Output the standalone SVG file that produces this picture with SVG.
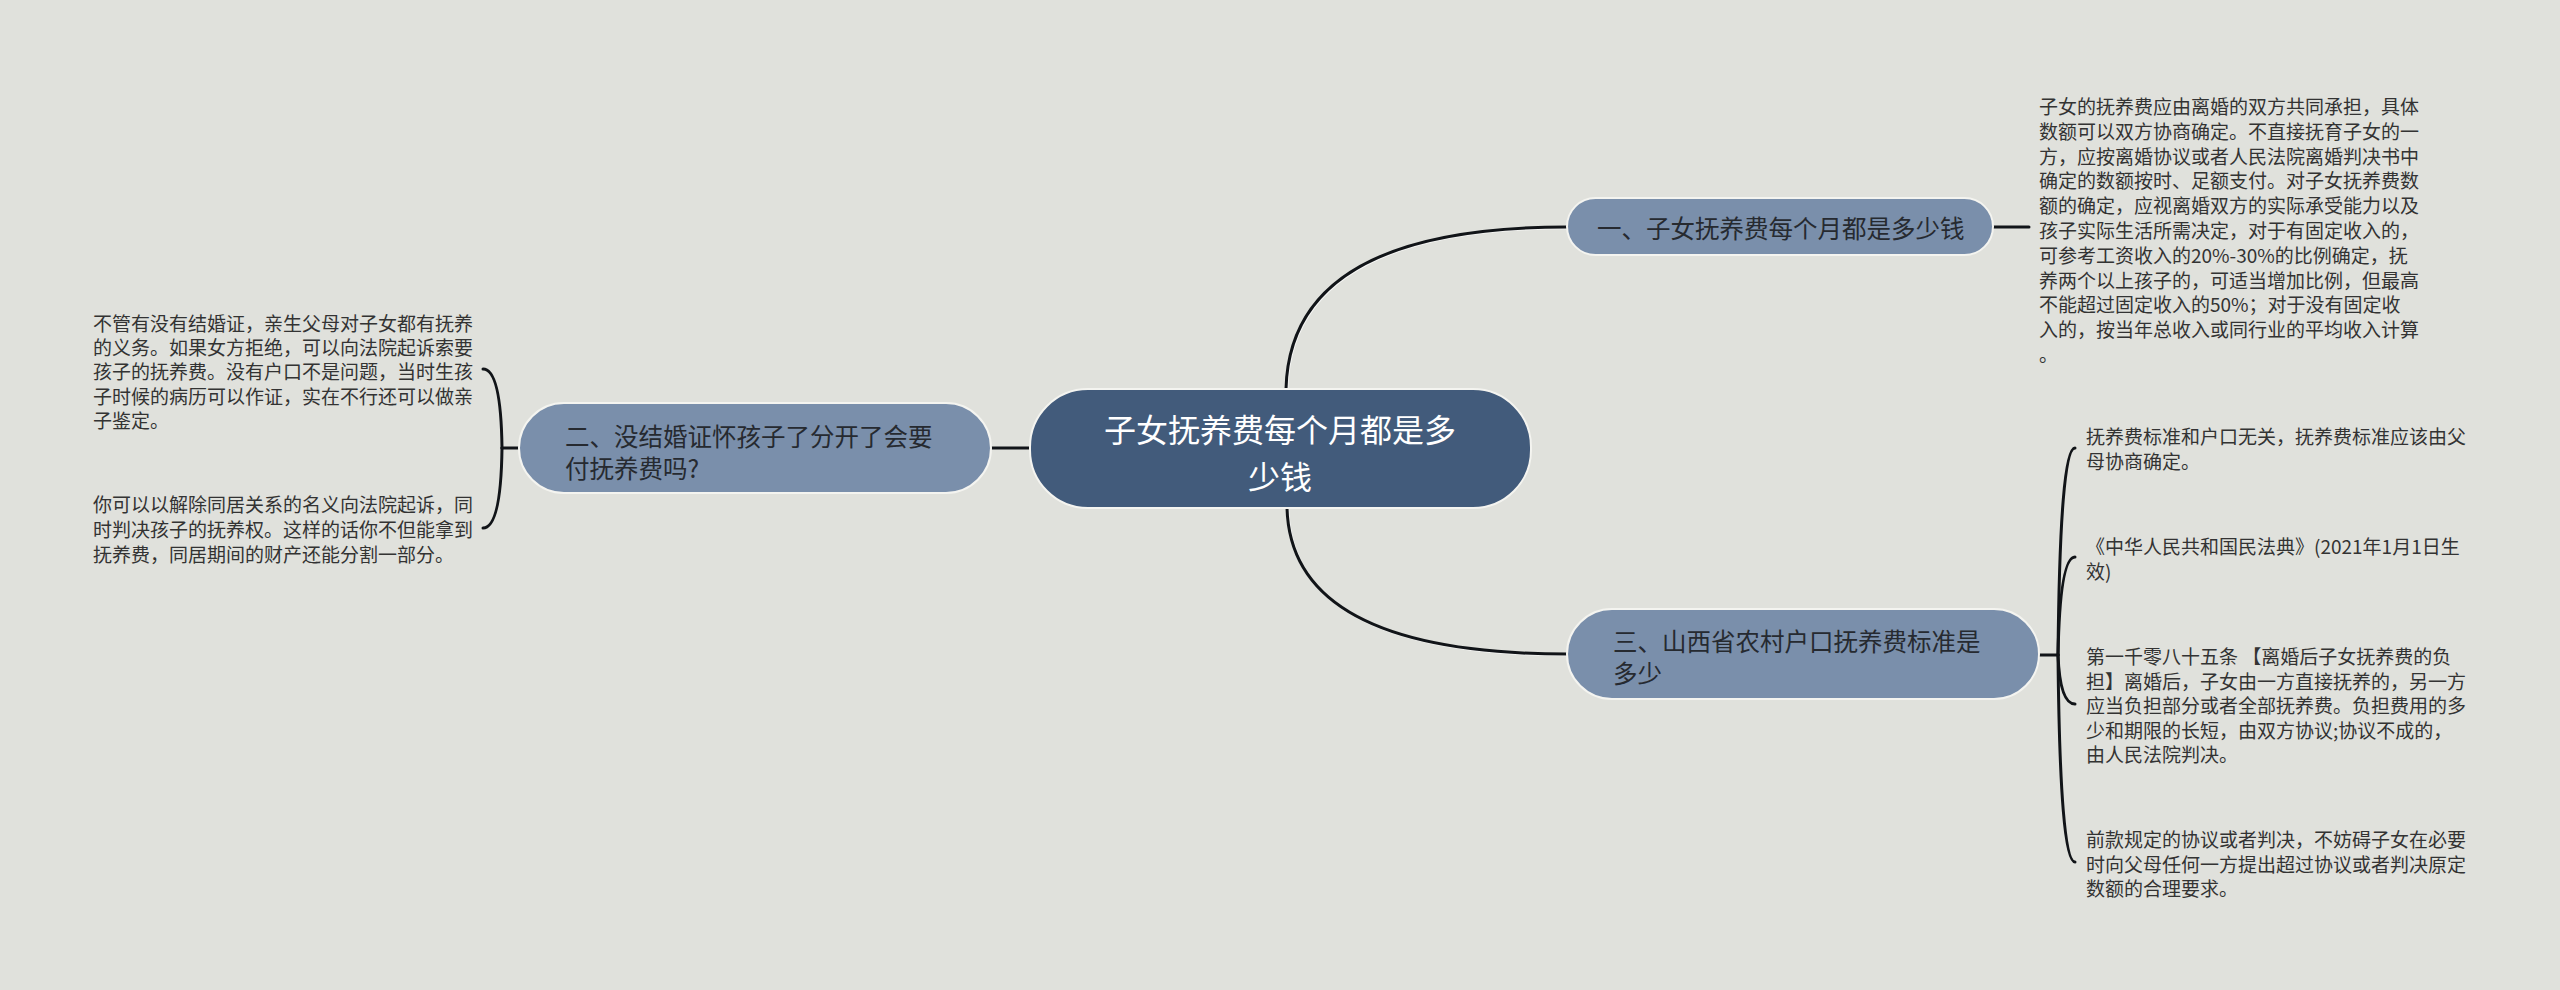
<svg xmlns="http://www.w3.org/2000/svg" width="2560" height="990" viewBox="0 0 2560 990">
<style>
.bg{fill:#e0e1dc}
.root{fill:#425b7b;stroke:#f4f4f0;stroke-width:2}
.sub{fill:#7a8fab;stroke:#f4f4f0;stroke-width:2}
.t{font-family:"Noto Sans CJK SC","Noto Sans",sans-serif;dominant-baseline:central}
.rt{font-size:32px;fill:#ffffff;text-anchor:middle}
.st{font-size:24.5px;fill:#262a30}
.lt{font-size:19px;fill:#333333}
.c{fill:none;stroke:#111418;stroke-width:3;stroke-linecap:round}
.cs{fill:none;stroke:#ffffff;stroke-width:3;stroke-opacity:0.7}
</style>
<rect class="bg" x="0" y="0" width="2560" height="990"/>
<g id="connectors">
<g transform="translate(0.8,0.8)">
<path class="cs" d="M1286 389 Q1290 227 1567 227"/>
<path class="cs" d="M1287 508 Q1291 654 1567 654"/>
</g>
<path class="c" d="M1286 389 Q1290 227 1567 227"/>
<path class="c" d="M1287 508 Q1291 654 1567 654"/>
<path class="c" d="M991 448 L1030 448"/>
<path class="c" d="M1993 227 L2029 227"/>
<path class="c" d="M2039 655 L2058 655"/>
<path class="c" d="M2058 655 Q2060 448 2075 448"/>
<path class="c" d="M2058 655 Q2060 557 2075 557"/>
<path class="c" d="M2058 655 Q2060 704 2075 704"/>
<path class="c" d="M2058 655 Q2060 862 2075 862"/>
<path class="c" d="M519 448 L502 448"/>
<path class="c" d="M502 448 Q501 369 483 369"/>
<path class="c" d="M502 448 Q501 528 483 528"/>
</g>
<g id="root">
<rect class="root" x="1030" y="389" width="501" height="119" rx="58"/>
<text class="t rt"><tspan x="1280" y="428">子女抚养费每个月都是多</tspan><tspan x="1280" y="475">少钱</tspan></text>
</g>
<g id="node1">
<rect class="sub" x="1567" y="198" width="426" height="57" rx="28.5"/>
<text class="t st" x="1597" y="227">一、子女抚养费每个月都是多少钱</text>
</g>
<g id="node2">
<rect class="sub" x="519" y="403" width="472" height="90" rx="45"/>
<text class="t st"><tspan x="565" y="435">二、没结婚证怀孩子了分开了会要</tspan><tspan x="565" y="467">付抚养费吗?</tspan></text>
</g>
<g id="node3">
<rect class="sub" x="1567" y="609" width="472" height="90" rx="45"/>
<text class="t st"><tspan x="1613" y="640">三、山西省农村户口抚养费标准是</tspan><tspan x="1613" y="672">多少</tspan></text>
</g>
<g id="leaf1">
<text class="t lt"><tspan x="2039" y="105">子女的抚养费应由离婚的双方共同承担，具体</tspan><tspan x="2039" y="129.8">数额可以双方协商确定。不直接抚育子女的一</tspan><tspan x="2039" y="154.6">方，应按离婚协议或者人民法院离婚判决书中</tspan><tspan x="2039" y="179.4">确定的数额按时、足额支付。对子女抚养费数</tspan><tspan x="2039" y="204.2">额的确定，应视离婚双方的实际承受能力以及</tspan><tspan x="2039" y="229">孩子实际生活所需决定，对于有固定收入的，</tspan><tspan x="2039" y="253.8">可参考工资收入的20%-30%的比例确定，抚</tspan><tspan x="2039" y="278.6">养两个以上孩子的，可适当增加比例，但最高</tspan><tspan x="2039" y="303.4">不能超过固定收入的50%；对于没有固定收</tspan><tspan x="2039" y="328.2">入的，按当年总收入或同行业的平均收入计算</tspan><tspan x="2039" y="353">。</tspan></text>
</g>
<g id="leaf2">
<text class="t lt"><tspan x="93" y="322">不管有没有结婚证，亲生父母对子女都有抚养</tspan><tspan x="93" y="346.2">的义务。如果女方拒绝，可以向法院起诉索要</tspan><tspan x="93" y="370.4">孩子的抚养费。没有户口不是问题，当时生孩</tspan><tspan x="93" y="394.6">子时候的病历可以作证，实在不行还可以做亲</tspan><tspan x="93" y="418.8">子鉴定。</tspan></text>
</g>
<g id="leaf3">
<text class="t lt"><tspan x="93" y="503">你可以以解除同居关系的名义向法院起诉，同</tspan><tspan x="93" y="528">时判决孩子的抚养权。这样的话你不但能拿到</tspan><tspan x="93" y="553">抚养费，同居期间的财产还能分割一部分。</tspan></text>
</g>
<g id="leaf4">
<text class="t lt"><tspan x="2086" y="435">抚养费标准和户口无关，抚养费标准应该由父</tspan><tspan x="2086" y="460">母协商确定。</tspan></text>
</g>
<g id="leaf5">
<text class="t lt"><tspan x="2086" y="545">《中华人民共和国民法典》(2021年1月1日生</tspan><tspan x="2086" y="570">效)</tspan></text>
</g>
<g id="leaf6">
<text class="t lt"><tspan x="2086" y="655">第一千零八十五条 【离婚后子女抚养费的负</tspan><tspan x="2086" y="679.5">担】离婚后，子女由一方直接抚养的，另一方</tspan><tspan x="2086" y="704">应当负担部分或者全部抚养费。负担费用的多</tspan><tspan x="2086" y="728.5">少和期限的长短，由双方协议;协议不成的，</tspan><tspan x="2086" y="753">由人民法院判决。</tspan></text>
</g>
<g id="leaf7">
<text class="t lt"><tspan x="2086" y="838">前款规定的协议或者判决，不妨碍子女在必要</tspan><tspan x="2086" y="862.5">时向父母任何一方提出超过协议或者判决原定</tspan><tspan x="2086" y="887">数额的合理要求。</tspan></text>
</g>
</svg>
